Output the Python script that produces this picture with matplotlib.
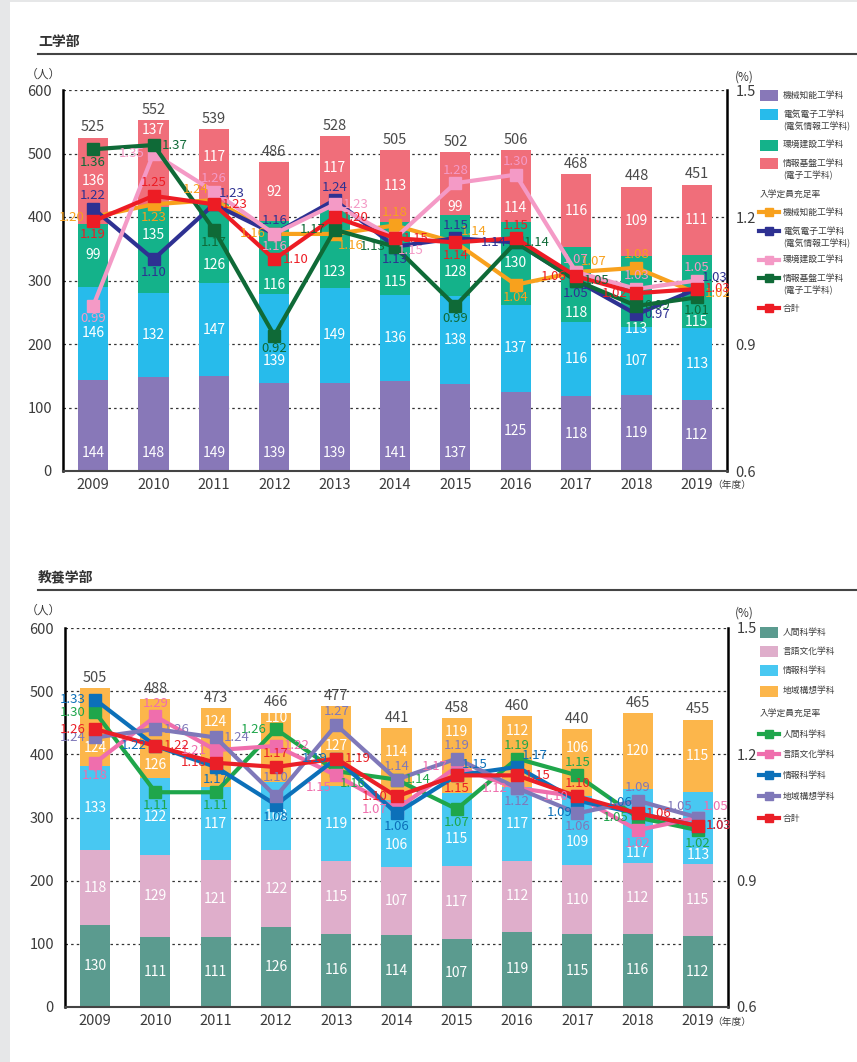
import numpy as np
import matplotlib
matplotlib.use('Agg')
import matplotlib.pyplot as plt
from matplotlib.patches import Rectangle
from matplotlib.lines import Line2D

plt.rcParams['font.family'] = ['Noto Sans CJK JP', 'DejaVu Sans']

years = ['2009', '2010', '2011', '2012', '2013', '2014', '2015', '2016', '2017', '2018', '2019']

# ---- 工学部 (students per department)
eng_mech = [144, 148, 149, 139, 139, 141, 137, 125, 118, 119, 112]
eng_elec = [146, 132, 147, 139, 149, 136, 138, 137, 116, 107, 113]
eng_env = [99, 135, 126, 116, 123, 115, 128, 130, 118, 113, 115]
eng_info = [136, 137, 117, 92, 117, 113, 99, 114, 116, 109, 111]

# 入学定員充足率
eng_rate_mech = [1.20, 1.23, 1.24, 1.16, 1.16, 1.18, 1.14, 1.04, 1.07, 1.08, 1.02]
eng_rate_elec = [1.22, 1.10, 1.23, 1.16, 1.24, 1.13, 1.15, 1.14, 1.05, 0.97, 1.03]
eng_rate_env = [0.99, 1.35, 1.26, 1.16, 1.23, 1.15, 1.28, 1.30, 1.07, 1.03, 1.05]
eng_rate_info = [1.36, 1.37, 1.17, 0.92, 1.17, 1.13, 0.99, 1.14, 1.05, 0.99, 1.01]
eng_rate_total = [1.19, 1.25, 1.23, 1.10, 1.20, 1.15, 1.14, 1.15, 1.06, 1.02, 1.03]

# ---- 教養学部
lib_human = [130, 111, 111, 126, 116, 114, 107, 119, 115, 116, 112]
lib_lang = [118, 129, 121, 122, 115, 107, 117, 112, 110, 112, 115]
lib_info = [133, 122, 117, 108, 119, 106, 115, 117, 109, 117, 113]
lib_region = [124, 126, 124, 110, 127, 114, 119, 112, 106, 120, 115]

lib_rate_human = [1.30, 1.11, 1.11, 1.26, 1.16, 1.14, 1.07, 1.19, 1.15, 1.05, 1.02]
lib_rate_lang = [1.18, 1.29, 1.21, 1.22, 1.15, 1.07, 1.17, 1.12, 1.10, 1.02, 1.05]
lib_rate_info = [1.33, 1.22, 1.17, 1.08, 1.19, 1.06, 1.15, 1.17, 1.09, 1.06, 1.03]
lib_rate_region = [1.24, 1.26, 1.24, 1.10, 1.27, 1.14, 1.19, 1.12, 1.06, 1.09, 1.05]
lib_rate_total = [1.26, 1.22, 1.18, 1.17, 1.19, 1.10, 1.15, 1.15, 1.10, 1.06, 1.03]

# label placement (styling, not data)
OFF = {'a': (0, 13), 'aa': (0, 19), 'b': (0, -13), 'l': (-22, 0), 'r': (21, 0),
       'al': (-18, 11), 'ar': (18, 11), 'bl': (-18, -12), 'br': (16, -12)}

eng_pos = [
    ['l', 'b', 'al', 'l', 'br', 'a', 'ar', 'b', 'ar', 'a', 'r'],
    ['a', 'b', 'ar', 'a', 'a', 'b', 'a', 'l', 'b', 'r', 'ar'],
    ['b', 'l', 'a', 'b', 'r', 'br', 'a', 'a', 'a', 'a', 'a'],
    ['b', 'r', 'b', 'b', 'l', 'l', 'b', 'r', 'r', 'r', 'b'],
    ['b', 'a', 'r', 'r', 'r', 'r', 'b', 'a', 'l', 'l', 'r'],
]
lib_pos = [
    ['l', 'b', 'b', 'l', 'br', 'r', 'b', 'a', 'a', 'l', 'b'],
    ['b', 'a', 'l', 'r', 'bl', 'l', 'l', 'l', 'l', 'b', 'ar'],
    ['l', 'l', 'b', 'b', 'l', 'b', 'ar', 'ar', 'bl', 'al', 'r'],
    ['l', 'r', 'r', 'aa', 'a', 'a', 'a', 'b', 'b', 'a', 'al'],
    ['l', 'r', 'l', 'a', 'r', 'l', 'b', 'r', 'a', 'r', 'r'],
]

eng_label_y = {(0, 0): 28, (0, 1): 28, (0, 2): 28, (0, 3): 28, (0, 4): 28, (0, 5): 28, (0, 6): 28,
               (1, 3): 174,
               (2, 1): 371, (2, 2): 325, (2, 3): 293, (2, 4): 313, (2, 5): 297, (2, 6): 314,
               (2, 8): 249, (2, 9): 223, (2, 10): 235,
               (3, 1): 537, (3, 2): 494, (3, 4): 477, (3, 6): 415, (3, 7): 414}
lib_label_y = {(2, 5): 256, (2, 6): 266, (2, 8): 262, (2, 9): 244, (2, 10): 241,
               (3, 0): 410, (3, 1): 383, (3, 2): 451, (3, 3): 457, (3, 5): 404,
               (3, 6): 435, (3, 7): 437, (3, 8): 410}

TXT = '#3c3c3c'
fig = plt.figure(figsize=(8.57, 10.62), dpi=100)
W, H = 857, 1062


def panel(px, bars, bar_colors, rates, rate_colors, pos, label_y):
    l, t, r, b = px
    ax = fig.add_axes([l / W, (H - b) / H, (r - l) / W, (b - t) / H])
    x = np.arange(len(years))
    bottom = np.zeros(len(years))
    for i, (vals, c) in enumerate(zip(bars, bar_colors)):
        vals = np.array(vals)
        ax.bar(x, vals, 0.5, bottom=bottom, color=c, zorder=2)
        for j in range(len(x)):
            yl = label_y.get((i, j), bottom[j] + vals[j] / 2)
            ax.text(x[j], yl, str(vals[j]), ha='center', va='center', color='white', fontsize=10, zorder=3)
        bottom += vals
    for j in range(len(x)):
        ax.text(x[j], bottom[j] + 5, str(int(bottom[j])), ha='center', va='bottom', color='#4a4a4a', fontsize=10.5)
    for gy in range(100, 601, 100):
        ax.axhline(gy, color='#333333', lw=0.9, ls=(0, (2, 2.5)), zorder=1)
    ax.set_xlim(-0.5, 10.5)
    ax.set_ylim(0, 600)
    ax.set_yticks(range(0, 601, 100))
    ax.set_xticks(x, years)
    ax.tick_params(length=0, labelsize=10.5, colors=TXT)
    ax.tick_params(axis='y', pad=8)
    ax.tick_params(axis='x', pad=5)
    ax.spines['top'].set_visible(False)
    ax.spines['left'].set_linewidth(1.8)
    ax.spines['right'].set_linewidth(1.8)
    ax.spines['bottom'].set_linewidth(1.5)
    ax.spines['bottom'].set_color('#444444')

    ax2 = ax.twinx()
    ax2.set_ylim(0.6, 1.5)
    ax2.set_yticks([0.6, 0.9, 1.2, 1.5], ['0.6', '0.9', '1.2', '1.5'])
    ax2.tick_params(length=0, labelsize=10.5, colors=TXT, pad=6)
    for s in ax2.spines.values():
        s.set_visible(False)
    for vals, c, ps in zip(rates, rate_colors, pos):
        ax2.plot(x, vals, color=c, lw=3, marker='s', ms=8.5, zorder=3)
        for j, v in enumerate(vals):
            ax2.annotate(f'{v:.2f}', (x[j], v), xytext=OFF[ps[j]], textcoords='offset pixels',
                         ha='center', va='center', color=c, fontsize=9.5, zorder=4)
    return ax


eng_bar_colors = ['#8878b8', '#27bbeb', '#14b28a', '#f06e7a']
eng_line_colors = ['#f8a11d', '#2e3192', '#f49ac6', '#0f6a37', '#ed1c24']
lib_bar_colors = ['#5b9b8f', '#dfaecb', '#48c8f2', '#fcb64b']
lib_line_colors = ['#1fa64b', '#ef6ead', '#0c70b9', '#7f78b9', '#ea1f27']

panel((63, 90, 727, 471), [eng_mech, eng_elec, eng_env, eng_info], eng_bar_colors,
      [eng_rate_mech, eng_rate_elec, eng_rate_env, eng_rate_info, eng_rate_total],
      eng_line_colors, eng_pos, eng_label_y)
panel((65, 628, 728, 1007), [lib_human, lib_lang, lib_info, lib_region], lib_bar_colors,
      [lib_rate_human, lib_rate_lang, lib_rate_info, lib_rate_region, lib_rate_total],
      lib_line_colors, lib_pos, lib_label_y)

# overlay in pixel coordinates for titles and legends
ov = fig.add_axes([0, 0, 1, 1])
ov.set_xlim(0, W)
ov.set_ylim(H, 0)
ov.axis('off')
ov.patch.set_visible(False)
ov.add_patch(Rectangle((0, 0), 10, H, color='#e6e7e8', lw=0))
ov.add_patch(Rectangle((0, 0), W, 2, color='#e6e7e8', lw=0))

for title, ty, uy, ry in [('工学部', 42, 54, 74), ('教養学部', 577, 590, 610)]:
    ov.text(38, ty, title, fontsize=10, fontweight='bold', color='#333333', va='center', ha='left')
    ov.plot([38, W], [uy, uy], color='#444444', lw=1.5)
    ov.text(43, ry, '（人）', fontsize=8.5, color=TXT, va='center', ha='center')
    ov.text(735, ry + 3, '(%)', fontsize=8.5, color=TXT, va='center', ha='left')

ov.text(712, 485, '（年度）', fontsize=7, color=TXT, va='center', ha='left')
ov.text(712, 1022, '（年度）', fontsize=7, color=TXT, va='center', ha='left')


def legend(bar_items, bar_colors, line_items, line_colors, head_y):
    for (lines, y), c in zip(bar_items, bar_colors):
        ov.add_patch(Rectangle((760, y - 5.5), 18, 11, color=c, lw=0))
        for k, s in enumerate(lines):
            ov.text(783, y + k * 12, s, fontsize=6.3, color=TXT, va='center', ha='left')
    ov.text(760, head_y, '入学定員充足率', fontsize=6.3, color=TXT, va='center', ha='left')
    for (lines, y), c in zip(line_items, line_colors):
        ov.add_line(Line2D([759, 779], [y, y], color=c, lw=3))
        ov.add_line(Line2D([769], [y], color=c, marker='s', ms=6, lw=0))
        for k, s in enumerate(lines):
            ov.text(783, y + k * 12, s, fontsize=6.3, color=TXT, va='center', ha='left')


legend([(['機械知能工学科'], 95), (['電気電子工学科', '(電気情報工学科)'], 114), (['環境建設工学科'], 145),
        (['情報基盤工学科', '(電子工学科)'], 163)], eng_bar_colors,
       [(['機械知能工学科'], 212), (['電気電子工学科', '(電気情報工学科)'], 231), (['環境建設工学科'], 260),
        (['情報基盤工学科', '(電子工学科)'], 278), (['合計'], 308)], eng_line_colors, 194)
legend([(['人間科学科'], 632), (['言語文化学科'], 651), (['情報科学科'], 670), (['地域構想学科'], 691)],
       lib_bar_colors,
       [(['人間科学科'], 734), (['言語文化学科'], 754), (['情報科学科'], 775), (['地域構想学科'], 796),
        (['合計'], 818)], lib_line_colors, 713)

fig.savefig('out.png', dpi=100)
